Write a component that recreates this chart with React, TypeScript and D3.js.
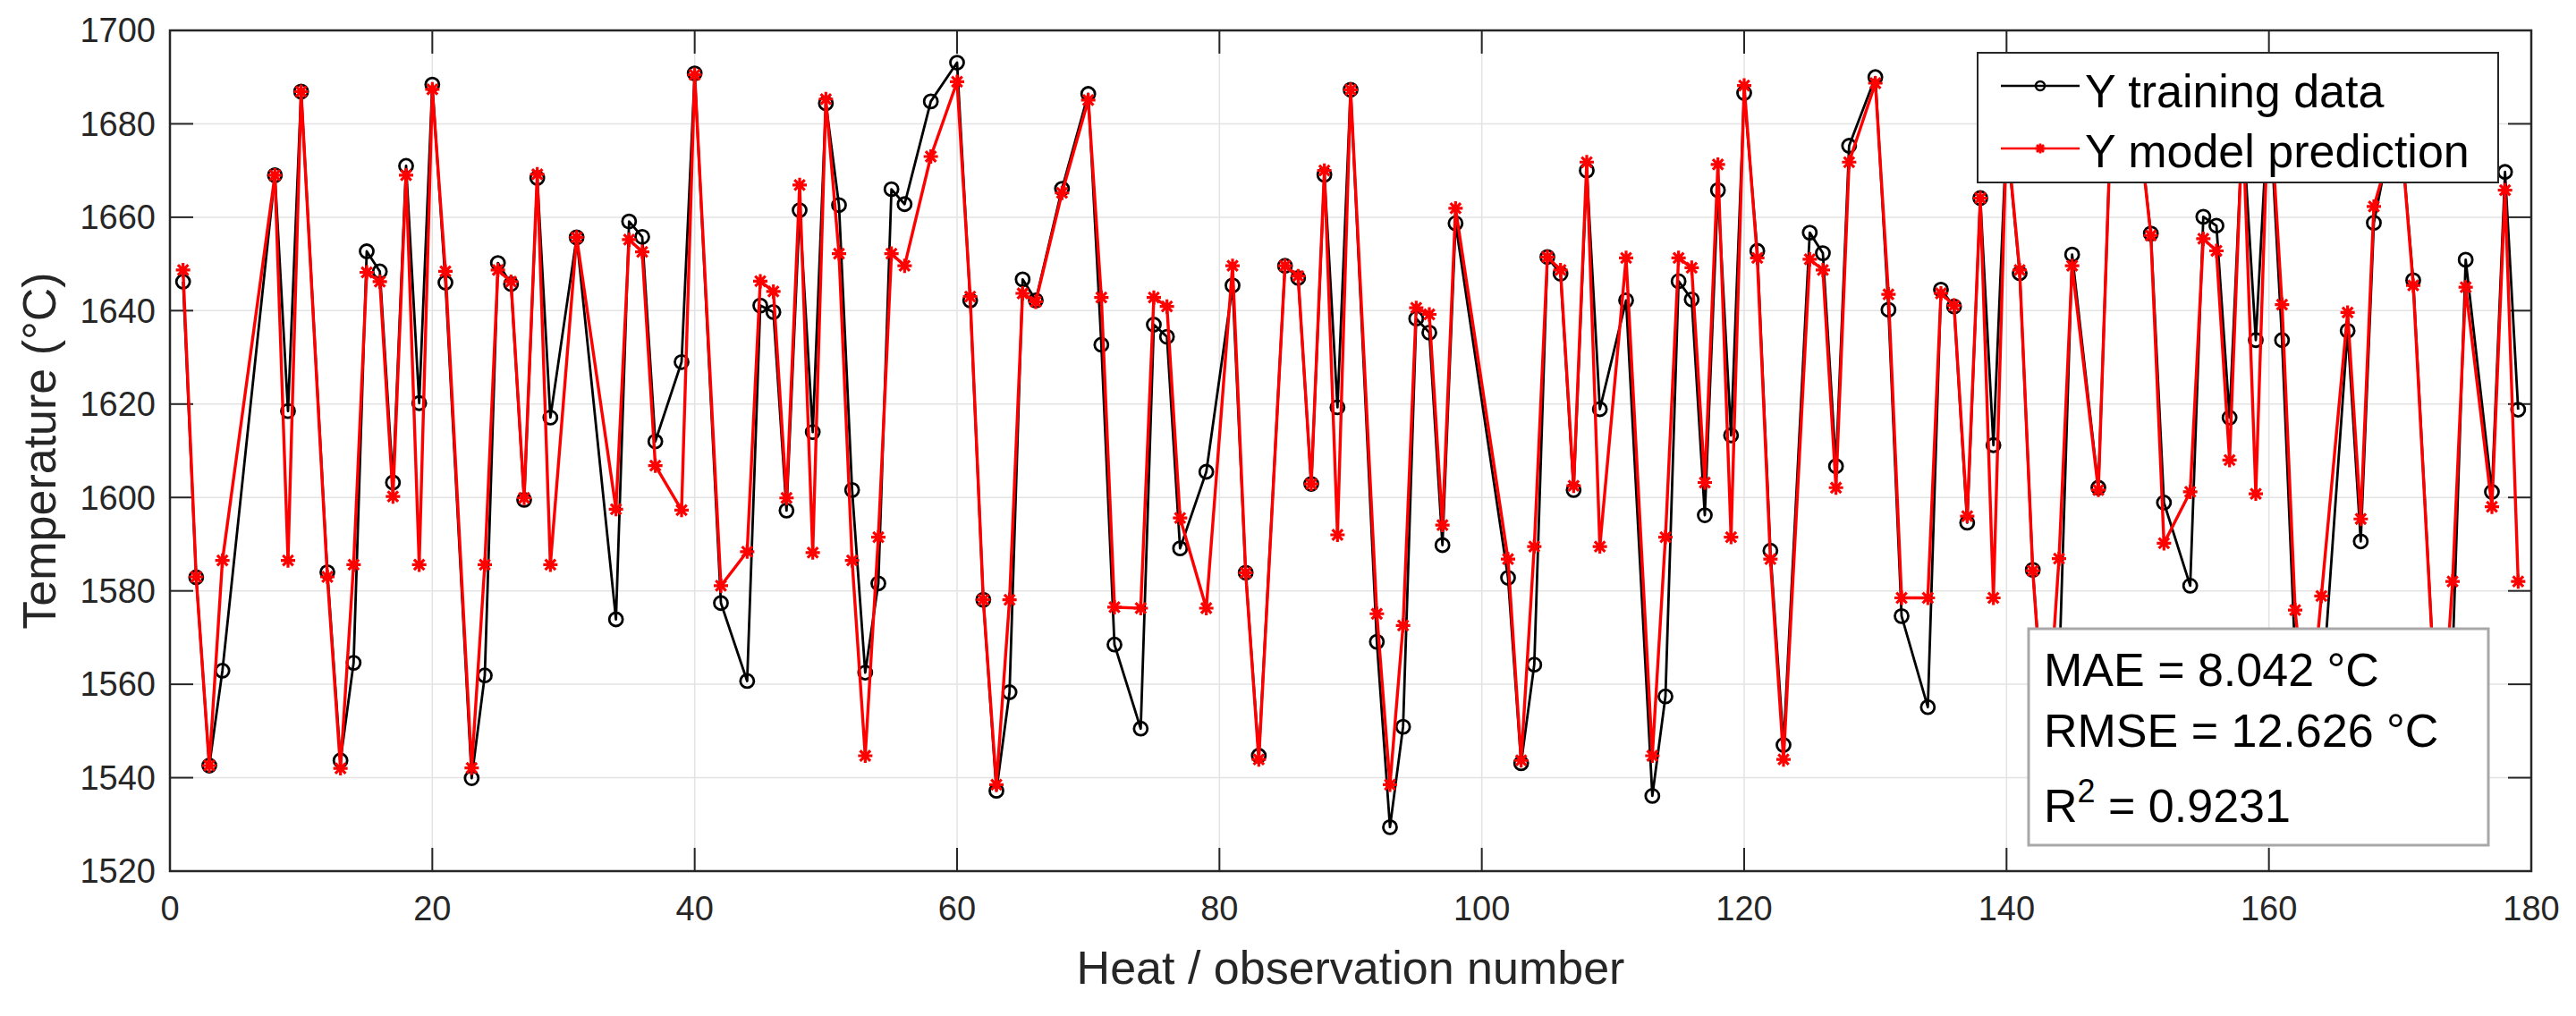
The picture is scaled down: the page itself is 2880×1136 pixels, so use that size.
import React, { useEffect, useRef } from 'react';
import * as d3 from 'd3';

// heat / observation numbers present in the training set
const heatNumbers = [
  1, 2, 3, 4, 8, 9, 10, 12, 13, 14, 15, 16, 17, 18, 19, 20, 21, 23, 24, 25, 26, 27, 28, 29, 31,
  34, 35, 36, 37, 39, 40, 42, 44, 45, 46, 47, 48, 49, 50, 51, 52, 53, 54, 55, 56, 58, 60, 61, 62,
  63, 64, 65, 66, 68, 70, 71, 72, 74, 75, 76, 77, 79, 81, 82, 83, 85, 86, 87, 88, 89, 90, 92, 93,
  94, 95, 96, 97, 98, 102, 103, 104, 105, 106, 107, 108, 109, 111, 113, 114, 115, 116, 117, 118,
  119, 120, 121, 122, 123, 125, 126, 127, 128, 130, 131, 132, 134, 135, 136, 137, 138, 139, 140,
  141, 142, 143, 144, 145, 147, 148, 150, 151, 152, 154, 155, 156, 157, 158, 159, 160, 161, 162,
  163, 164, 166, 167, 168, 169, 170, 171, 173, 174, 175, 177, 178, 179,
];

const trainingData = [
  1646.2, 1582.9, 1542.6, 1562.9, 1669.0, 1618.5, 1686.9, 1584.0, 1543.7, 1564.6, 1652.7, 1648.4,
  1603.2, 1671.0, 1620.2, 1688.4, 1646.0, 1539.9, 1561.9, 1650.2, 1645.7, 1599.5, 1668.4, 1617.1,
  1655.7, 1573.9, 1659.1, 1655.8, 1612.0, 1629.0, 1690.8, 1577.4, 1560.7, 1641.1, 1639.7, 1597.2,
  1661.5, 1614.0, 1684.4, 1662.6, 1601.6, 1562.5, 1581.6, 1666.0, 1662.8, 1684.8, 1693.1, 1642.2,
  1578.1, 1537.2, 1558.3, 1646.7, 1642.2, 1666.1, 1686.4, 1632.7, 1568.5, 1550.5, 1637.0, 1634.4,
  1589.1, 1605.5, 1645.4, 1583.9, 1544.7, 1649.6, 1647.0, 1602.9, 1669.1, 1619.3, 1687.3, 1569.1,
  1529.4, 1550.9, 1638.3, 1635.3, 1589.8, 1658.7, 1582.8, 1543.1, 1564.2, 1651.5, 1647.9, 1601.6,
  1670.0, 1618.9, 1642.2, 1536.1, 1557.4, 1646.3, 1642.4, 1596.2, 1665.8, 1613.3, 1686.6, 1652.8,
  1588.6, 1547.0, 1656.7, 1652.3, 1606.7, 1675.3, 1690.0, 1640.2, 1574.6, 1555.1, 1644.5, 1640.9,
  1594.6, 1664.1, 1611.2, 1678.0, 1648.0, 1584.5, 1546.0, 1562.0, 1652.0, 1602.1, 1684.0, 1682.0,
  1656.5, 1598.9, 1581.1, 1660.1, 1658.2, 1617.1, 1680.0, 1633.7, 1686.0, 1633.7, 1566.0, 1546.0,
  1556.0, 1635.7, 1590.6, 1658.8, 1673.0, 1680.0, 1646.5, 1540.0, 1566.0, 1650.9, 1601.2, 1669.7,
  1618.8,
];

const modelPrediction = [
  1648.7, 1583.0, 1542.6, 1586.5, 1669.0, 1586.5, 1686.9, 1583.0, 1542.0, 1585.6, 1648.2, 1646.2,
  1600.2, 1669.0, 1585.6, 1687.4, 1648.4, 1542.1, 1585.6, 1648.7, 1646.2, 1599.9, 1669.2, 1585.6,
  1655.7, 1597.5, 1655.2, 1652.6, 1606.8, 1597.3, 1690.5, 1581.1, 1588.4, 1646.3, 1644.1, 1599.9,
  1666.9, 1588.2, 1685.3, 1652.2, 1586.5, 1544.7, 1591.5, 1652.2, 1649.6, 1673.0, 1689.0, 1643.0,
  1578.1, 1538.5, 1578.1, 1643.7, 1641.9, 1665.2, 1685.1, 1642.8, 1576.5, 1576.3, 1642.8, 1640.9,
  1595.6, 1576.3, 1649.6, 1583.9, 1543.9, 1649.6, 1647.4, 1602.9, 1670.0, 1592.0, 1687.3, 1575.1,
  1538.5, 1572.6, 1640.6, 1639.2, 1594.1, 1661.9, 1586.8, 1543.7, 1589.5, 1651.5, 1648.7, 1602.5,
  1671.8, 1589.5, 1651.3, 1544.7, 1591.5, 1651.3, 1649.2, 1603.2, 1671.3, 1591.5, 1688.2, 1651.3,
  1586.8, 1543.9, 1651.0, 1648.7, 1602.1, 1671.8, 1688.7, 1643.5, 1578.5, 1578.5, 1643.7, 1641.1,
  1596.0, 1664.1, 1578.5, 1678.5, 1648.7, 1584.3, 1545.0, 1586.9, 1649.6, 1601.6, 1684.0, 1682.0,
  1656.1, 1590.2, 1601.2, 1655.4, 1652.8, 1608.0, 1681.0, 1600.8, 1688.0, 1641.3, 1575.9, 1548.0,
  1578.9, 1639.6, 1595.4, 1662.3, 1672.0, 1680.0, 1645.4, 1540.0, 1582.0, 1645.0, 1598.0, 1665.8,
  1582.0,
];

const xTicks = [0, 20, 40, 60, 80, 100, 120, 140, 160, 180];
const yTicks = [1520, 1540, 1560, 1580, 1600, 1620, 1640, 1660, 1680, 1700];
const legendLabels = ['Y training data', 'Y model prediction'];
const metricLabels = ['MAE = 8.042 °C', 'RMSE = 12.626 °C'];
const r2Value = '0.9231';

const FONT = '"Liberation Sans", Arial, Helvetica, sans-serif';
const AXIS_COLOR = '#262626';

const App: React.FC = () => {
  const width = 2880;
  const height = 1136;
  const svgRef = useRef<SVGSVGElement>(null);

  useEffect(() => {
    if (!svgRef.current) return;
    const svg = d3.select(svgRef.current);
    svg.selectAll('*').remove();

    const left = 190, right = 2830, top = 34, bottom = 974;
    const tickLen = 26;

    const x = d3.scaleLinear().domain([0, 180]).range([left, right]);
    const y = d3.scaleLinear().domain([1520, 1700]).range([bottom, top]);

    // grid
    const grid = svg.append('g');
    grid.selectAll('.gx')
      .data(xTicks.slice(1, -1))
      .enter()
      .append('line')
      .attr('x1', d => x(d)).attr('x2', d => x(d))
      .attr('y1', top).attr('y2', bottom)
      .attr('stroke', '#e3e3e3').attr('stroke-width', 1.5);
    grid.selectAll('.gy')
      .data(yTicks.slice(1, -1))
      .enter()
      .append('line')
      .attr('x1', left).attr('x2', right)
      .attr('y1', d => y(d)).attr('y2', d => y(d))
      .attr('stroke', '#e3e3e3').attr('stroke-width', 1.5);

    // ticks (inside, all four sides)
    const ticks = svg.append('g').attr('stroke', AXIS_COLOR).attr('stroke-width', 2);
    xTicks.forEach(t => {
      ticks.append('line').attr('x1', x(t)).attr('x2', x(t)).attr('y1', bottom).attr('y2', bottom - tickLen);
      ticks.append('line').attr('x1', x(t)).attr('x2', x(t)).attr('y1', top).attr('y2', top + tickLen);
    });
    yTicks.forEach(t => {
      ticks.append('line').attr('x1', left).attr('x2', left + tickLen).attr('y1', y(t)).attr('y2', y(t));
      ticks.append('line').attr('x1', right).attr('x2', right - tickLen).attr('y1', y(t)).attr('y2', y(t));
    });

    // tick labels
    svg.append('g')
      .selectAll('text')
      .data(xTicks)
      .enter()
      .append('text')
      .attr('x', d => x(d))
      .attr('y', 1029)
      .attr('text-anchor', 'middle')
      .attr('font-family', FONT)
      .attr('font-size', 38)
      .attr('fill', AXIS_COLOR)
      .text(d => d);
    svg.append('g')
      .selectAll('text')
      .data(yTicks)
      .enter()
      .append('text')
      .attr('x', 174)
      .attr('y', d => y(d))
      .attr('dy', '0.35em')
      .attr('text-anchor', 'end')
      .attr('font-family', FONT)
      .attr('font-size', 38)
      .attr('fill', AXIS_COLOR)
      .text(d => d);

    // axis titles
    svg.append('text')
      .attr('x', (left + right) / 2)
      .attr('y', 1100)
      .attr('text-anchor', 'middle')
      .attr('font-family', FONT)
      .attr('font-size', 52)
      .attr('fill', AXIS_COLOR)
      .text('Heat / observation number');
    svg.append('text')
      .attr('transform', `translate(62, ${(top + bottom) / 2}) rotate(-90)`)
      .attr('text-anchor', 'middle')
      .attr('font-family', FONT)
      .attr('font-size', 52)
      .attr('fill', AXIS_COLOR)
      .text('Temperature (°C)');

    // box
    svg.append('rect')
      .attr('x', left).attr('y', top)
      .attr('width', right - left).attr('height', bottom - top)
      .attr('fill', 'none').attr('stroke', AXIS_COLOR).attr('stroke-width', 2.5);

    const asterisk = (s: number) =>
      `M${-s},0L${s},0M0,${-s}L0,${s}M${-s * 0.72},${-s * 0.72}L${s * 0.72},${s * 0.72}M${-s * 0.72},${s * 0.72}L${s * 0.72},${-s * 0.72}`;

    const line = d3.line<number>()
      .x((d, i) => x(heatNumbers[i]))
      .y(d => y(d));

    // training data (black, circles)
    svg.append('path')
      .attr('d', line(trainingData) || '')
      .attr('fill', 'none').attr('stroke', '#000').attr('stroke-width', 2.8)
      .attr('stroke-linejoin', 'round');
    svg.append('g')
      .selectAll('circle')
      .data(trainingData)
      .enter()
      .append('circle')
      .attr('cx', (d, i) => x(heatNumbers[i]))
      .attr('cy', d => y(d))
      .attr('r', 7.5)
      .attr('fill', 'none').attr('stroke', '#000').attr('stroke-width', 2.8);

    // model prediction (red, asterisks)
    svg.append('path')
      .attr('d', line(modelPrediction) || '')
      .attr('fill', 'none').attr('stroke', '#ff0000').attr('stroke-width', 3.4)
      .attr('stroke-linejoin', 'round');
    svg.append('g')
      .selectAll('path')
      .data(modelPrediction)
      .enter()
      .append('path')
      .attr('transform', (d, i) => `translate(${x(heatNumbers[i])},${y(d)})`)
      .attr('d', asterisk(8))
      .attr('fill', 'none').attr('stroke', '#ff0000').attr('stroke-width', 3.2);

    // legend
    const legend = svg.append('g');
    legend.append('rect')
      .attr('x', 2211).attr('y', 59).attr('width', 582).attr('height', 145)
      .attr('fill', '#fff').attr('stroke', AXIS_COLOR).attr('stroke-width', 2);
    const rows = [96, 166];
    const baselines = [120, 187];
    const colors = ['#000', '#ff0000'];
    legendLabels.forEach((label, i) => {
      legend.append('line')
        .attr('x1', 2237).attr('x2', 2325).attr('y1', rows[i]).attr('y2', rows[i])
        .attr('stroke', colors[i]).attr('stroke-width', 2.5);
      if (i === 0) {
        legend.append('circle').attr('cx', 2281).attr('cy', rows[i]).attr('r', 5)
          .attr('fill', 'none').attr('stroke', '#000').attr('stroke-width', 2.5);
      } else {
        legend.append('path').attr('transform', `translate(2281,${rows[i]})`)
          .attr('d', asterisk(5.5)).attr('fill', 'none').attr('stroke', '#ff0000').attr('stroke-width', 2.8);
      }
      legend.append('text')
        .attr('x', 2331).attr('y', baselines[i])
        .attr('font-family', FONT).attr('font-size', 52).attr('fill', '#000')
        .text(label);
    });

    // metrics box
    const box = svg.append('g');
    box.append('rect')
      .attr('x', 2268).attr('y', 703).attr('width', 514).attr('height', 242)
      .attr('fill', '#fff').attr('stroke', '#a8a8a8').attr('stroke-width', 3);
    metricLabels.forEach((label, i) => {
      box.append('text')
        .attr('x', 2285).attr('y', 767 + i * 68)
        .attr('font-family', FONT).attr('font-size', 52).attr('fill', '#000')
        .text(label);
    });
    const r2 = box.append('text')
      .attr('x', 2285).attr('y', 919)
      .attr('font-family', FONT).attr('font-size', 52).attr('fill', '#000');
    r2.append('tspan').text('R');
    r2.append('tspan').attr('dy', -22).attr('font-size', 36).text('2');
    r2.append('tspan').attr('dy', 22).text(` = ${r2Value}`);
  }, []);

  return (
    <>
      <style>{'body{margin:0;background:#fff}'}</style>
      <svg ref={svgRef} width={width} height={height} style={{ display: 'block', background: '#fff' }}></svg>
    </>
  );
};

export default App;
